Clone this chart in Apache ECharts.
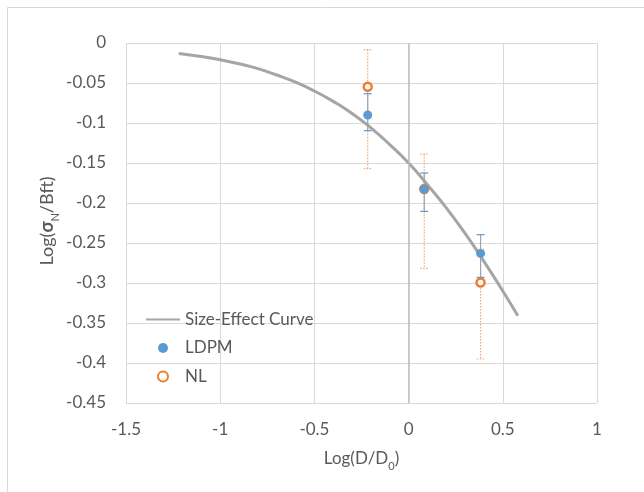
<!DOCTYPE html>
<html>
<head>
<meta charset="utf-8">
<script src="https://cdn.jsdelivr.net/npm/echarts@6/dist/echarts.min.js"></script>
<style>html,body{margin:0;padding:0;background:#fff;}#c{width:644px;height:492px;}</style>
</head>
<body>
<div id="c"></div>
<script>
// Size-effect curve
const curveX = [-1.22, -1.1, -1.0, -0.9, -0.8, -0.7, -0.6, -0.5, -0.4, -0.3, -0.2, -0.1, 0.0, 0.1, 0.2, 0.3, 0.4, 0.5, 0.58];
const curveY = [-0.013, -0.017, -0.021, -0.026, -0.032, -0.040, -0.049, -0.060, -0.073, -0.088, -0.106, -0.127, -0.150, -0.177, -0.206, -0.238, -0.273, -0.310, -0.341];
// LDPM
const ldpmX = [-0.217, 0.083, 0.382];
const ldpmY = [-0.090, -0.1825, -0.263];
const ldpmLow = [-0.1096, -0.2105, -0.293];
const ldpmHigh = [-0.0634, -0.1625, -0.2396];
// NL
const nlX = [-0.217, 0.083, 0.382];
const nlY = [-0.0546, -0.1825, -0.2993];
const nlLow = [-0.157, -0.2818, -0.395];
const nlHigh = [-0.0084, -0.139, -0.2575];
// ticks and titles
const xTicks = {min: -1.5, max: 1, step: 0.5};
const yTicks = {min: -0.45, max: 0, step: 0.05};
const xTitle = 'Log(D/D{s|0})';
const yTitle = 'Log({b|σ}{s|N}/Bft)';

const FONT = 'Lato';
const TXT = '#595959';

function errRender(capColor, stemColor, dash) {
  return function (params, api) {
    const x = api.value(0), lo = api.value(1), hi = api.value(2);
    const a = api.coord([x, hi]), b = api.coord([x, lo]);
    const hw = 4;
    const st = {stroke: stemColor, lineWidth: 1.2, lineDash: dash};
    const cs = {stroke: capColor, lineWidth: 1.2, lineDash: dash};
    return {
      type: 'group',
      children: [
        {type: 'line', shape: {x1: a[0], y1: a[1], x2: b[0], y2: b[1]}, style: st},
        {type: 'line', shape: {x1: a[0] - hw, y1: a[1], x2: a[0] + hw, y2: a[1]}, style: cs},
        {type: 'line', shape: {x1: b[0] - hw, y1: b[1], x2: b[0] + hw, y2: b[1]}, style: cs}
      ]
    };
  };
}

const chart = echarts.init(document.getElementById('c'), null, {renderer: 'canvas'});
chart.setOption({
  animation: false,
  backgroundColor: '#fff',
  textStyle: {fontFamily: FONT},
  graphic: [
    {
      type: 'rect', left: 5, top: 5, silent: true,
      shape: {x: 0.5, y: 0.5, width: 800, height: 800},
      style: {fill: 'none', stroke: '#d9d9d9', lineWidth: 1}
    },
    {
      type: 'text', x: 47, y: 221, rotation: Math.PI / 2, silent: true,
      style: {
        text: yTitle, fill: TXT, font: '18px Lato', fontFamily: FONT, fontSize: 18,
        align: 'center', verticalAlign: 'middle',
        rich: {
          b: {fontFamily: FONT, fontSize: 18, fontWeight: 'bold', fill: TXT},
          s: {fontFamily: FONT, fontSize: 11, fill: TXT, verticalAlign: 'bottom', padding: [0, 0, -5, 0]}
        }
      }
    }
  ],
  grid: {left: 126, right: 47, top: 43, bottom: 89, containLabel: false},
  legend: {
    orient: 'vertical', left: 140, top: 306,
    itemWidth: 34, itemHeight: 10, itemGap: 11.5,
    data: [
      {name: 'Size-Effect Curve', itemStyle: {opacity: 0}},
      {name: 'LDPM'},
      {name: 'NL'}
    ],
    textStyle: {fontFamily: FONT, fontSize: 17, lineHeight: 17, color: TXT}
  },
  xAxis: {
    type: 'value', min: xTicks.min, max: xTicks.max, interval: xTicks.step,
    name: xTitle, nameLocation: 'middle', nameGap: 47,
    nameTextStyle: {fontFamily: FONT, fontSize: 17, color: TXT,
      rich: {s: {fontFamily: FONT, fontSize: 11, color: TXT, verticalAlign: 'bottom', padding: [0, 0, -5, 0]}}},
    axisLine: {show: false}, axisTick: {show: false},
    axisLabel: {fontFamily: FONT, fontSize: 17, color: TXT, margin: 18},
    splitLine: {show: true, lineStyle: {color: '#d9d9d9', width: 1}}
  },
  yAxis: {
    type: 'value', min: yTicks.min, max: yTicks.max, interval: yTicks.step,
    axisLine: {show: false}, axisTick: {show: false},
    axisLabel: {fontFamily: FONT, fontSize: 17, color: TXT, margin: 20},
    splitLine: {show: true, lineStyle: {color: '#d9d9d9', width: 1}}
  },
  series: [
    {
      name: 'Size-Effect Curve', type: 'line', smooth: true, symbol: 'none',
      data: curveX.map((x, i) => [x, curveY[i]]),
      lineStyle: {color: '#a5a5a5', width: 3},
      itemStyle: {color: '#a5a5a5'},
      z: 2,
      markLine: {
        silent: true, symbol: 'none', label: {show: false},
        lineStyle: {color: '#bfbfbf', width: 1.5, type: 'solid'},
        data: [{xAxis: 0}]
      }
    },
    {
      type: 'custom', renderItem: errRender('#f4a678', '#f4a678', [1.5, 1.5]),
      encode: {x: 0, y: [1, 2]}, z: 3,
      data: nlX.map((x, i) => [x, nlLow[i], nlHigh[i]])
    },
    {
      type: 'custom', renderItem: errRender('#5b9bd5', '#9aa3ae', null),
      encode: {x: 0, y: [1, 2]}, z: 3,
      data: ldpmX.map((x, i) => [x, ldpmLow[i], ldpmHigh[i]])
    },
    {
      name: 'NL', type: 'scatter', symbol: 'circle', symbolSize: 8, z: 4,
      data: nlX.map((x, i) => [x, nlY[i]]),
      itemStyle: {color: '#ffffff', borderColor: '#ed7d31', borderWidth: 2.5, opacity: 1}
    },
    {
      name: 'LDPM', type: 'scatter', symbol: 'circle', symbolSize: 9, z: 5,
      data: ldpmX.map((x, i) => [x, ldpmY[i]]),
      itemStyle: {color: '#5b9bd5', opacity: 1}
    }
  ]
});
</script>
</body>
</html>
